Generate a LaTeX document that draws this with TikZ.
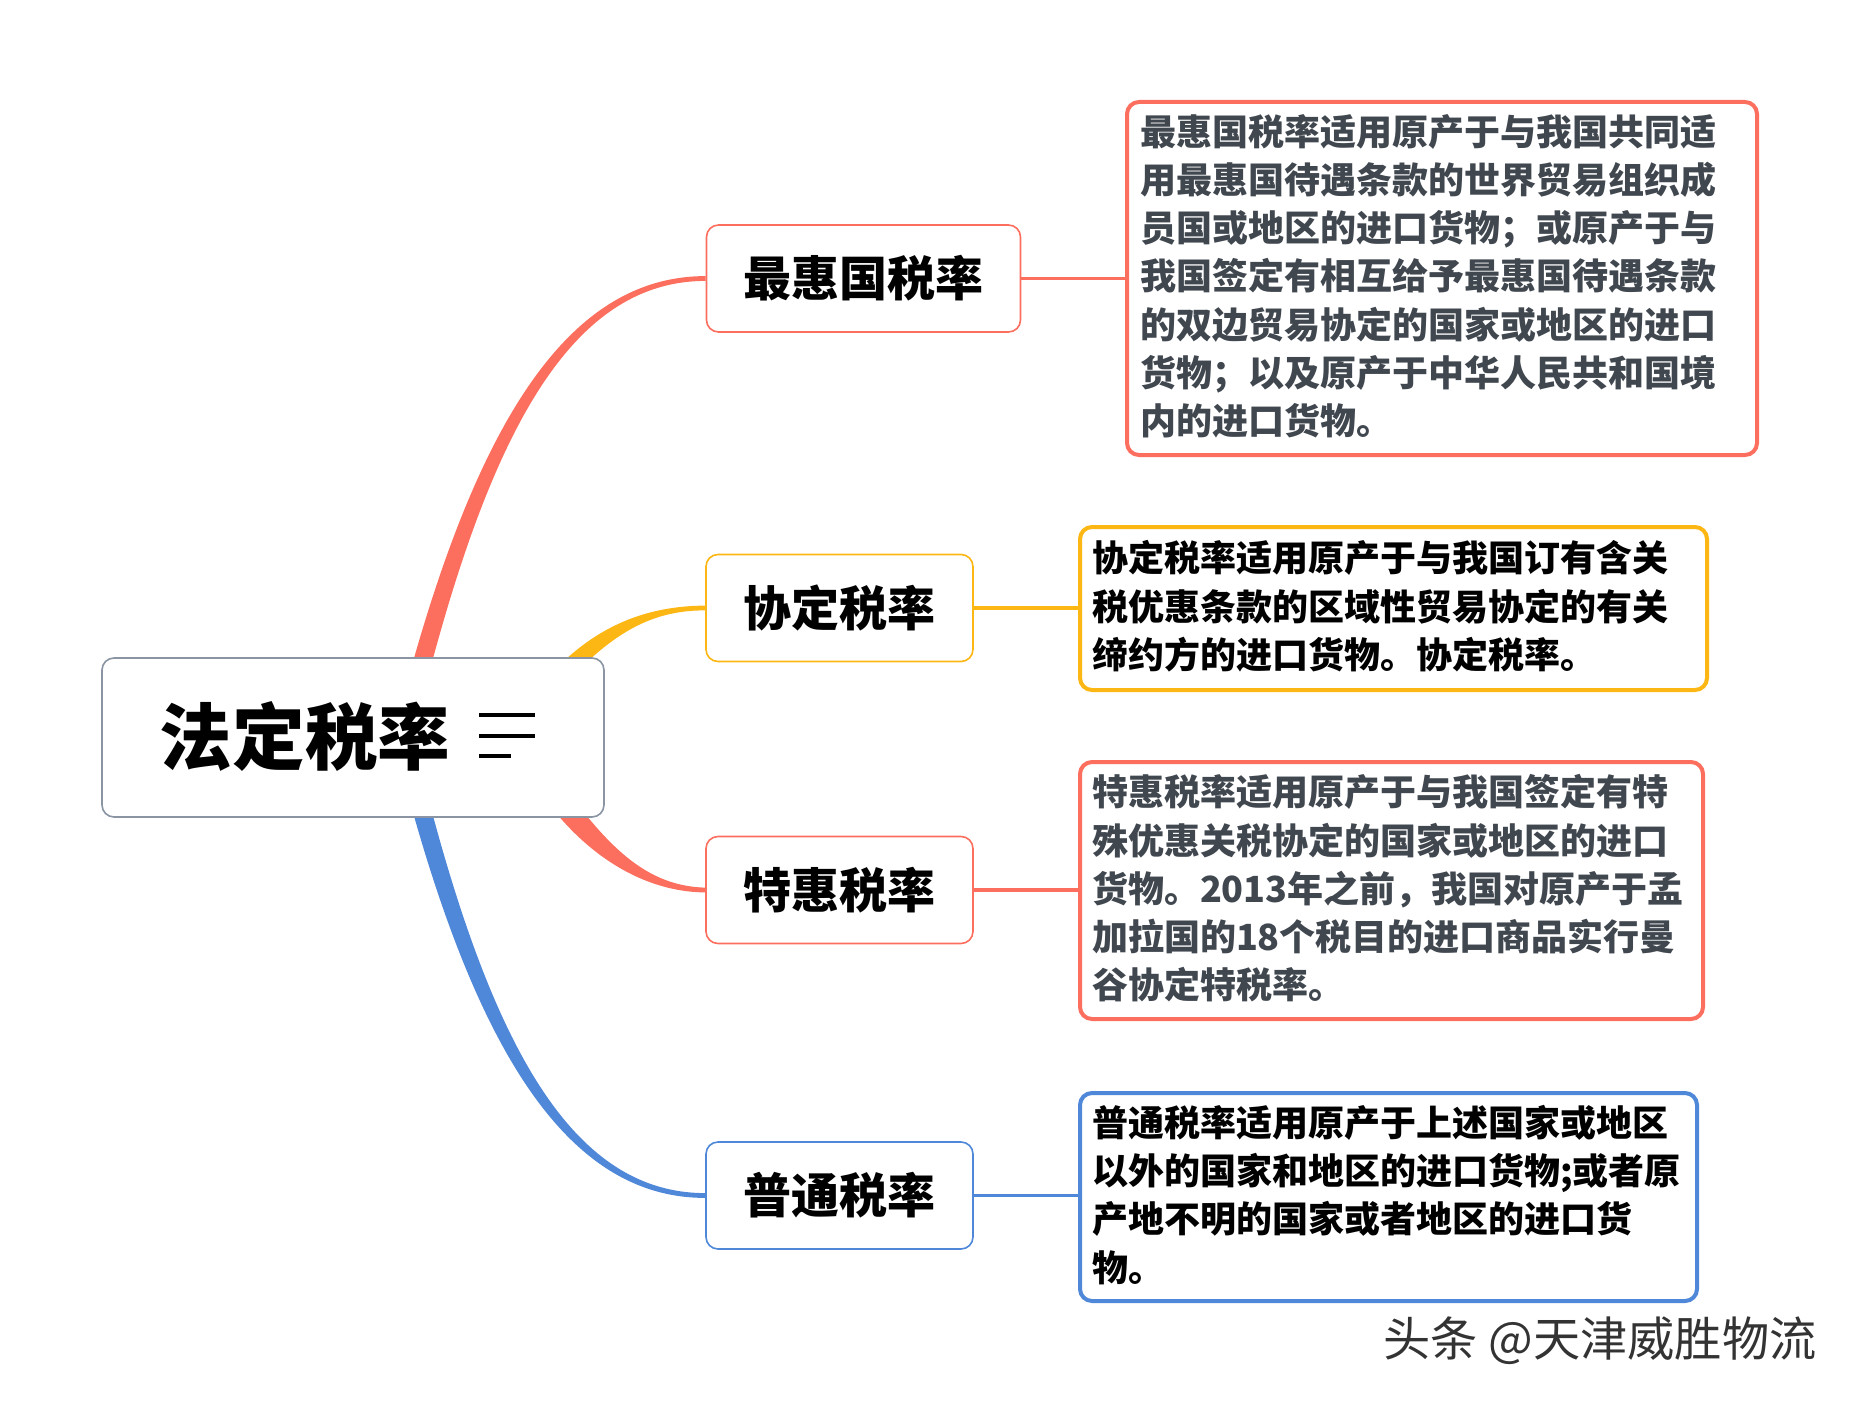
\documentclass[tikz,border=0pt]{standalone}
\usepackage{xcolor}
\usepackage{fontspec}
\usepackage{tikz}
\usetikzlibrary{backgrounds}
\setmainfont{Noto Sans CJK SC}
\newfontfamily\titlefont{Noto Sans CJK SC Black}
\definecolor{redline}{HTML}{FC6F5E}
\definecolor{yellowline}{HTML}{FDB714}
\definecolor{blueline}{HTML}{4F88D8}
\definecolor{rootline}{HTML}{8A94A3}
\definecolor{darktext}{HTML}{40474F}
\tikzset{
  rootbox/.style={draw=rootline, fill=white, line width=0.8pt, rounded corners=6pt, minimum width=251pt, minimum height=79.5pt},
  topicbox/.style={fill=white, line width=0.8pt, rounded corners=6pt, minimum height=53.5pt, font=\fontsize{24}{28}\bfseries},
  detailbox/.style={fill=white, line width=2pt, rounded corners=6pt, align=left, inner xsep=6pt, inner ysep=0pt, font=\fontsize{18}{24.1}\bfseries, execute at end node={\par\vspace{2.2pt}}},
  link/.style={line width=1.8pt}
}
\begin{document}
\begin{tikzpicture}[x=0.5pt, y=-0.5pt]
    \useasboundingbox (0,0) rectangle (1858,1402);
    \node[rootbox] (root) at (353,737.5) {};
    \node[font=\fontsize{36.3}{40}\titlefont, inner sep=0pt] (title) at (305,736) {法定税率};
    \coordinate (bar1) at (479,715);
    \coordinate (bar2) at (479,736);
    \coordinate (bar3) at (479,756);
    \coordinate (bar1e) at (535,715);
    \coordinate (bar2e) at (535,736);
    \coordinate (bar3e) at (511,756);
    \path [line width=2.4pt] (bar1) edge (bar1e);
    \path [line width=2.4pt] (bar2) edge (bar2e);
    \path [line width=2.4pt] (bar3) edge (bar3e);

    \node[topicbox, draw=redline, minimum width=157pt] (T1) at (863.5,278.5) {最惠国税率};
    \node[topicbox, draw=yellowline, minimum width=133.5pt] (T2) at (839.5,608) {协定税率};
    \node[topicbox, draw=redline, minimum width=133.5pt] (T3) at (839.5,890) {特惠税率};
    \node[topicbox, draw=blueline, minimum width=133.5pt] (T4) at (839.5,1195.5) {普通税率};

    \node[detailbox, draw=redline, text=darktext, text width=301.5pt, minimum width=315pt, minimum height=176.5pt] (D1) at (1442,278.5) {最惠国税率适用原产于与我国共同适\\用最惠国待遇条款的世界贸易组织成\\员国或地区的进口货物；或原产于与\\我国签定有相互给予最惠国待遇条款\\的双边贸易协定的国家或地区的进口\\货物；以及原产于中华人民共和国境\\内的进口货物。};
    \node[detailbox, draw=yellowline, text=black, text width=301.5pt, minimum height=81.5pt] (D2) at (1393.5,608.5) {协定税率适用原产于与我国订有含关\\税优惠条款的区域性贸易协定的有关\\缔约方的进口货物。协定税率。};
    \node[detailbox, draw=redline, text=darktext, text width=299.5pt, minimum height=128.5pt] (D3) at (1391.5,890.5) {特惠税率适用原产于与我国签定有特\\殊优惠关税协定的国家或地区的进口\\货物。2013年之前，我国对原产于孟\\加拉国的18个税目的进口商品实行曼\\谷协定特税率。};
    \node[detailbox, draw=blueline, text=black, text width=296.5pt, minimum height=104pt] (D4) at (1388.5,1197) {普通税率适用原产于上述国家或地区\\以外的国家和地区的进口货物;或者原\\产地不明的国家或者地区的进口货\\物。};

    \node[font=\fontsize{23.6}{26}\selectfont, text=black!80, inner sep=0pt] (mark) at (1600,1341) {头条 @天津威胜物流};

    \path [link, color=redline] (T1.east) edge (T1.east -| D1.west);
    \path [link, color=yellowline] (T2.east) edge (T2.east -| D2.west);
    \path [link, color=redline] (T3.east) edge (T3.east -| D3.west);
    \path [link, color=blueline] (T4.east) edge (T4.east -| D4.west);

    \begin{scope}[on background layer]
      \coordinate (S1) at (393,737);
      \coordinate (S1b) at (413,737);
      \coordinate (S2) at (529,700);
      \coordinate (S2b) at (550,700);
      \coordinate (S3) at (520,760);
      \coordinate (S3b) at (545,760);
      \coordinate (S4) at (393,737);
      \coordinate (S4b) at (413,737);
      \fill[redline] (S1) .. controls (467,440) and (560,276) .. ([yshift=1.2pt]T1.west) -- ([yshift=-1.2pt]T1.west) .. controls (565,281) and (483,445) .. (S1b) -- cycle;
      \fill[yellowline] (S2) .. controls (582,630) and (640,606) .. ([yshift=1.2pt]T2.west) -- ([yshift=-1.2pt]T2.west) .. controls (640,610) and (600,645) .. (S2b) -- cycle;
      \fill[redline] (S3) .. controls (570,850) and (640,892) .. ([yshift=-1.2pt]T3.west) -- ([yshift=1.2pt]T3.west) .. controls (640,886) and (600,838) .. (S3b) -- cycle;
      \fill[blueline] (S4) .. controls (467,1035) and (560,1198) .. ([yshift=-1.2pt]T4.west) -- ([yshift=1.2pt]T4.west) .. controls (565,1193) and (483,1030) .. (S4b) -- cycle;
    \end{scope}
  \end{tikzpicture}
\end{document}
